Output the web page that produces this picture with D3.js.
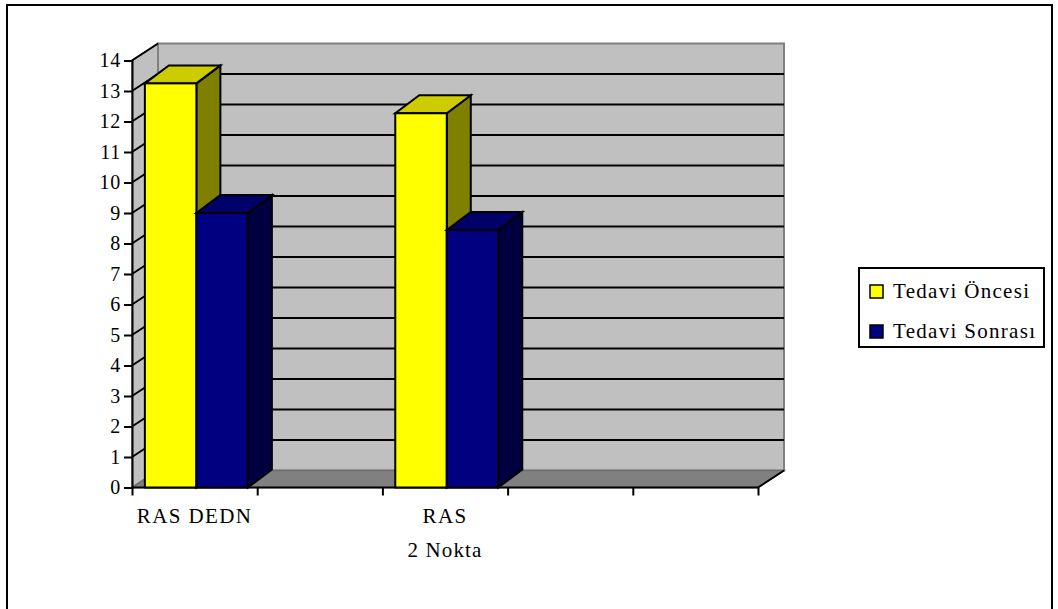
<!DOCTYPE html>
<html>
<head>
<meta charset="utf-8">
<script src="https://cdn.jsdelivr.net/npm/d3@7"></script>
<style>
  html, body { margin: 0; padding: 0; background: #fff; }
  svg { display: block; }
  text { font-family: "Liberation Serif", "DejaVu Serif", serif; fill: #000; }
</style>
</head>
<body>
<svg id="chart" width="1058" height="609"></svg>
<script>
// Category slots along the axis (only two carry data)
const categories = ["RAS DEDN", "", "RAS", "", ""];
const seriesNames = ["Tedavi Öncesi", "Tedavi Sonrası"];
const before = [13.25, null, 12.27, null, null];
const after = [9.0, null, 8.44, null, null];
const yTicks = [0, 1, 2, 3, 4, 5, 6, 7, 8, 9, 10, 11, 12, 13, 14];
const axisTitle = "2 Nokta";

const svg = d3.select("#chart");
const serif = "'Liberation Serif', 'DejaVu Serif', serif";

// plot geometry
const plotLeft = 132, plotRight = 758, plotBottom = 487.5, plotTop = 60.5;
const wallDx = 26, wallDy = -17;   // depth of the walls
const barDx = 24, barDy = -18;     // depth of each column

const y = d3.scaleLinear().domain([0, 14]).range([plotBottom, plotTop]);
const x = d3.scaleBand().domain(d3.range(categories.length)).range([plotLeft, plotRight]).padding(0);
const xs = d3.scaleBand().domain([0, 1]).range([0, x.bandwidth()])
  .paddingInner(0).paddingOuter(0.2155).align(0.58);
const xEdge = d3.scaleLinear().domain([0, categories.length]).range([plotLeft, plotRight]);

const faces = [
  { front: "#ffff00", top: "#cccc00", side: "#808000" },
  { front: "#000080", top: "#000068", side: "#000040" }
];

// outer frame
svg.append("rect").attr("x", 7).attr("y", 5).attr("width", 1045).attr("height", 620)
  .attr("fill", "#fff").attr("stroke", "#000").attr("stroke-width", 2);

// side wall
svg.append("polygon")
  .attr("points", [[plotLeft, y(14)], [plotLeft + wallDx, y(14) + wallDy], [plotLeft + wallDx, y(0) + wallDy], [plotLeft, y(0)]].join(" "))
  .attr("fill", "#c0c0c0").attr("stroke", "#808080").attr("stroke-width", 1.5);

// back wall
svg.append("rect")
  .attr("x", plotLeft + wallDx).attr("y", y(14) + wallDy)
  .attr("width", plotRight - plotLeft).attr("height", y(0) - y(14))
  .attr("fill", "#c0c0c0").attr("stroke", "#808080").attr("stroke-width", 2);

// floor
svg.append("polygon")
  .attr("points", [[plotLeft, y(0)], [plotRight, y(0)], [plotRight + wallDx, y(0) + wallDy], [plotLeft + wallDx, y(0) + wallDy]].join(" "))
  .attr("fill", "#808080").attr("stroke", "#6e6e6e").attr("stroke-width", 1.5);

// gridlines on back wall and side wall
const grid = svg.append("g");
yTicks.filter(v => v > 0 && v < 14).forEach(v => {
  grid.append("line")
    .attr("x1", plotLeft + wallDx).attr("x2", plotRight + wallDx)
    .attr("y1", y(v) + wallDy).attr("y2", y(v) + wallDy)
    .attr("stroke", "#000").attr("stroke-width", 2);
});
yTicks.filter(v => v > 0).forEach(v => {
  grid.append("line")
    .attr("x1", plotLeft).attr("x2", plotLeft + wallDx)
    .attr("y1", y(v)).attr("y2", y(v) + wallDy)
    .attr("stroke", "#000").attr("stroke-width", 2);
});

// floor front edge and right edge
svg.append("line").attr("x1", plotLeft).attr("x2", plotRight).attr("y1", y(0)).attr("y2", y(0))
  .attr("stroke", "#000").attr("stroke-width", 2);
svg.append("line").attr("x1", plotRight).attr("x2", plotRight + wallDx).attr("y1", y(0)).attr("y2", y(0) + wallDy)
  .attr("stroke", "#000").attr("stroke-width", 2);

// y axis
const yAxis = svg.append("g").attr("transform", `translate(${plotLeft},0)`)
  .call(d3.axisLeft(y).tickValues(yTicks).tickSize(8).tickPadding(3).tickFormat(d3.format("d")));
yAxis.attr("font-family", null).attr("font-size", null);
yAxis.select(".domain").attr("stroke", "#000").attr("stroke-width", 2);
yAxis.selectAll(".tick line").attr("stroke", "#000").attr("stroke-width", 2);
yAxis.selectAll(".tick text")
  .style("font-family", serif).style("font-size", "20px")
  .style("letter-spacing", "0.8px").attr("fill", "#000");

// x axis ticks at category boundaries
const xAxis = svg.append("g").attr("transform", `translate(0,${y(0)})`)
  .call(d3.axisBottom(xEdge).tickValues(d3.range(categories.length + 1)).tickSize(8).tickFormat(""));
xAxis.select(".domain").remove();
xAxis.selectAll(".tick line").attr("stroke", "#000").attr("stroke-width", 2);

// columns
const seriesData = [before, after];
categories.forEach((c, i) => {
  seriesData.forEach((vals, s) => {
    const v = vals[i];
    if (v == null) return;
    const x0 = x(i) + xs(s), x1 = x0 + xs.bandwidth();
    const yt = y(v), yb = y(0);
    const g = svg.append("g").attr("stroke", "#000").attr("stroke-width", 2).attr("stroke-linejoin", "miter");
    g.append("polygon")
      .attr("points", [[x1, yt], [x1 + barDx, yt + barDy], [x1 + barDx, yb + barDy], [x1, yb]].join(" "))
      .attr("fill", faces[s].side);
    g.append("polygon")
      .attr("points", [[x0, yt], [x0 + barDx, yt + barDy], [x1 + barDx, yt + barDy], [x1, yt]].join(" "))
      .attr("fill", faces[s].top);
    g.append("rect").attr("x", x0).attr("y", yt).attr("width", x1 - x0).attr("height", yb - yt)
      .attr("fill", faces[s].front);
  });
});

// category labels
svg.append("g").selectAll("text").data(categories).join("text")
  .attr("x", (d, i) => x(i) + x.bandwidth() / 2)
  .attr("y", 523)
  .attr("text-anchor", "middle")
  .style("font-family", serif).style("font-size", "21px").style("letter-spacing", "1.4px")
  .text(d => d);

// axis title
svg.append("text").attr("x", (plotLeft + plotRight) / 2).attr("y", 557)
  .attr("text-anchor", "middle")
  .style("font-family", serif).style("font-size", "21px").style("letter-spacing", "1.1px")
  .text(axisTitle);

// legend
const legend = svg.append("g");
legend.append("rect").attr("x", 859).attr("y", 268).attr("width", 185).attr("height", 79)
  .attr("fill", "#fff").attr("stroke", "#000").attr("stroke-width", 2);
seriesNames.forEach((name, s) => {
  const ly = 298 + s * 40;
  legend.append("rect").attr("x", 870).attr("y", ly - 13).attr("width", 13).attr("height", 13)
    .attr("fill", faces[s].front).attr("stroke", "#000").attr("stroke-width", 1.5);
  legend.append("text").attr("x", 893).attr("y", ly)
    .style("font-family", serif).style("font-size", "21px").style("letter-spacing", "1.3px")
    .text(name);
});
</script>
</body>
</html>
